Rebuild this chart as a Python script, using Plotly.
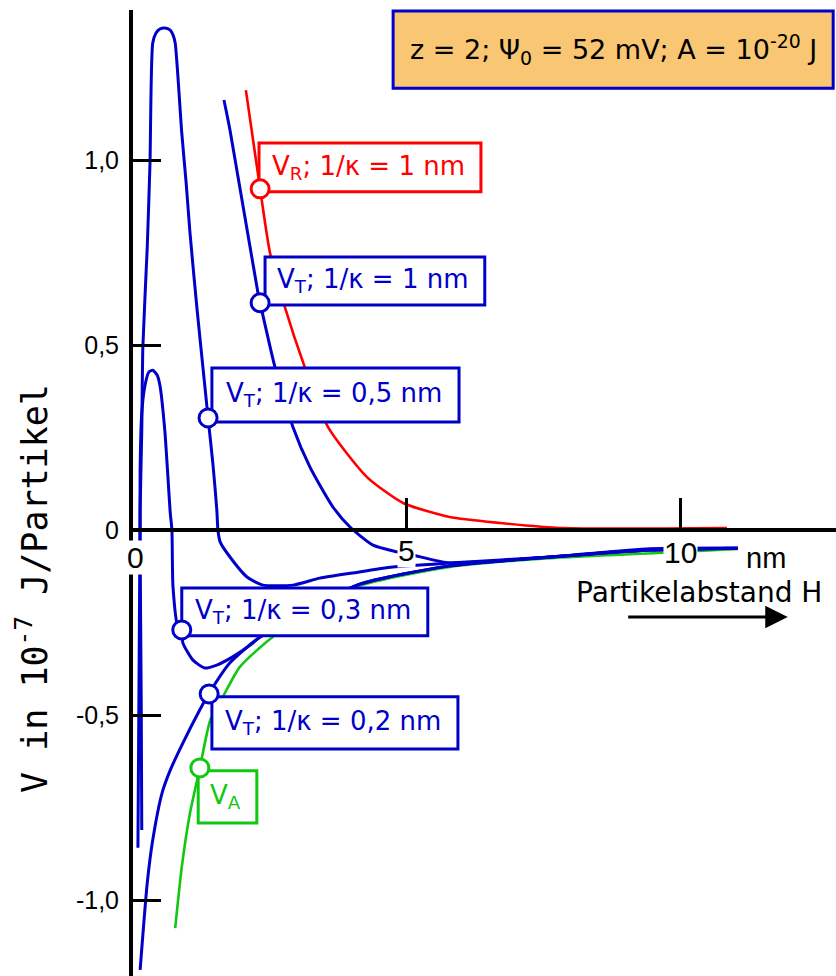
import plotly.graph_objects as go

# ---------------- data ----------------
# V_R, 1/kappa = 1 nm (red)
vr_x = [2.06, 2.32, 2.50, 2.77, 3.14, 3.56, 4.27, 4.93, 5.78, 6.70, 7.85, 10.84]
vr_y = [1.189, 0.922, 0.749, 0.603, 0.438, 0.278, 0.143, 0.073, 0.035, 0.019, 0.005, 0.005]

# V_T, 1/kappa = 1 nm (blue)
vt1_x = [1.66, 1.77, 2.28, 2.32, 2.59, 2.92, 3.23, 3.65, 3.96, 4.38, 4.82, 5.11, 5.78, 7.61, 9.43, 11.04]
vt1_y = [1.162, 1.081, 0.641, 0.614, 0.441, 0.278, 0.170, 0.062, 0.008, -0.041, -0.059, -0.068,
         -0.089, -0.073, -0.051, -0.049]

# V_T, 1/kappa = 0.5 nm (blue)
vt05_x = [0.09, 0.13, 0.16, 0.18, 0.26, 0.31, 0.36, 0.42, 0.49, 0.58, 0.68, 0.73, 0.77, 0.89,
          0.97, 1.04, 1.17, 1.30, 1.37, 1.46, 1.53, 1.55, 1.59, 1.77, 2.08, 2.37, 2.92, 3.41,
          4.01, 4.74, 5.78, 7.61, 9.43, 11.04]
vt05_y = [-0.859, 0.046, 0.270, 0.495, 0.765, 0.992, 1.316, 1.343, 1.354, 1.357, 1.351, 1.338,
          1.316, 1.073, 0.938, 0.803, 0.595, 0.405, 0.303, 0.176, 0.054, 0.0, -0.032, -0.073,
          -0.127, -0.149, -0.149, -0.130, -0.116, -0.100, -0.089, -0.073, -0.054, -0.049]

# V_T, 1/kappa = 0.3 nm (blue)
vt03_x = [0.16, 0.15, 0.13, 0.13, 0.16, 0.22, 0.29, 0.36, 0.44, 0.49, 0.58, 0.68, 0.71, 0.73,
          0.82, 0.89, 0.91, 1.09, 1.31, 1.53, 1.82, 2.14, 2.32, 4.09, 5.78, 7.61, 9.43, 11.04]
vt03_y = [-0.811, -0.459, -0.046, 0.162, 0.316, 0.392, 0.427, 0.432, 0.419, 0.392, 0.270, 0.046,
          0.0, -0.154, -0.262, -0.270, -0.305, -0.351, -0.373, -0.365, -0.343, -0.311, -0.289,
          -0.149, -0.097, -0.073, -0.054, -0.049]

# V_T, 1/kappa = 0.2 nm (blue)
vt02_x = [0.13, 0.26, 0.36, 0.53, 0.68, 0.91, 1.22, 1.37, 1.77, 2.32, 4.09, 5.78, 7.61, 9.43, 11.04]
vt02_y = [-1.189, -0.954, -0.838, -0.711, -0.649, -0.576, -0.486, -0.446, -0.359, -0.289,
          -0.149, -0.097, -0.073, -0.054, -0.049]

# V_A (green)
va_x = [0.77, 0.89, 1.04, 1.22, 1.41, 1.64, 1.95, 2.55, 3.96, 5.78, 7.61, 9.56, 11.04]
va_y = [-1.076, -0.911, -0.765, -0.643, -0.514, -0.451, -0.370, -0.289, -0.159, -0.100,
        -0.076, -0.062, -0.051]

# labels: text, anchor point on curve
label_texts = ["V<sub>R</sub>; 1/κ = 1 nm", "V<sub>T</sub>; 1/κ = 1 nm", "V<sub>T</sub>; 1/κ = 0,5 nm",
               "V<sub>T</sub>; 1/κ = 0,3 nm", "V<sub>T</sub>; 1/κ = 0,2 nm", "V<sub>A</sub>"]
label_pt_x = [2.32, 2.32, 1.37, 0.89, 1.39, 1.22]
label_pt_y = [0.922, 0.614, 0.303, -0.270, -0.443, -0.643]

y_tickvals = [-1.0, -0.5, 0.0, 0.5, 1.0]
y_ticktext = ["-1,0", "-0,5", "0", "0,5", "1,0"]
x_tickvals = [5, 10]
x_ticklabels = ["0", "5", "10"]
x_ticklabel_pos = [0, 5, 10]

info_text = "z = 2; Ψ<sub>0</sub> = 52 mV; A = 10<sup>-20</sup> J"
y_title = "V in 10<sup>-7</sup> J/Partikel"
x_title = "Partikelabstand H"
x_unit = "nm"

# ---------------- styling ----------------
RED = "#FF0000"
BLUE = "#0000C8"
GREEN = "#10C810"
ARIAL = "Liberation Sans, Arial, sans-serif"
DEJAVU = "DejaVu Sans, Verdana, sans-serif"
MONO = "DejaVu Sans Mono, monospace"

W, H = 836, 976
ML, MR, MT, MB = 133, 0, 10, 0
X_RANGE = [0, 12.83]
Y_RANGE = [-1.2054, 1.4054]
x_axis_pos = (0 - Y_RANGE[0]) / (Y_RANGE[1] - Y_RANGE[0])

fig = go.Figure()

def add_curve(x, y, color, width):
    fig.add_trace(go.Scatter(x=x, y=y, mode="lines",
                             line=dict(color=color, width=width, shape="spline", smoothing=0.6),
                             hoverinfo="skip", showlegend=False))

add_curve(vr_x, vr_y, RED, 2.6)
add_curve(va_x, va_y, GREEN, 2.6)
add_curve(vt02_x, vt02_y, BLUE, 3)
add_curve(vt03_x, vt03_y, BLUE, 3)
add_curve(vt05_x, vt05_y, BLUE, 3)
add_curve(vt1_x, vt1_y, BLUE, 3)

label_colors = [RED, BLUE, BLUE, BLUE, BLUE, GREEN]
# boxes (data coords): x0, x1, y0, y1
label_boxes = [
    (2.30, 6.35, 0.914, 1.046),
    (2.41, 6.42, 0.608, 0.738),
    (1.44, 5.95, 0.292, 0.438),
    (0.89, 5.38, -0.286, -0.157),
    (1.44, 5.93, -0.592, -0.451),
    (1.19, 2.26, -0.792, -0.651),
]

shapes = []
annotations = []
for (x0, x1, y0, y1), col, txt in zip(label_boxes, label_colors, label_texts):
    shapes.append(dict(type="rect", xref="x", yref="y", x0=x0, x1=x1, y0=y0, y1=y1,
                       fillcolor="white", line=dict(color=col, width=3), layer="above"))
    annotations.append(dict(x=(x0 + x1) / 2 - 0.03, y=(y0 + y1) / 2, xref="x", yref="y", text=txt,
                            xanchor="center", yanchor="middle", showarrow=False,
                            font=dict(family=DEJAVU, size=26, color=col)))
for px, py, col in zip(label_pt_x, label_pt_y, label_colors):
    shapes.append(dict(type="circle", xref="x", yref="y", xsizemode="pixel", ysizemode="pixel",
                       xanchor=px, yanchor=py, x0=-9, x1=9, y0=-9, y1=9,
                       fillcolor="white", line=dict(color=col, width=3), layer="above"))

# info box top right
shapes.append(dict(type="rect", xref="paper", yref="paper", x0=0.370, x1=0.996, y0=0.919, y1=0.999,
                   fillcolor="#F9C673", line=dict(color=BLUE, width=3), layer="above"))
annotations.append(dict(x=0.683, y=0.959, xref="paper", yref="paper", text=info_text, showarrow=False,
                        xanchor="center", yanchor="middle",
                        font=dict(family=DEJAVU, size=27, color="black")))

# x tick labels with white background
x_label_shift = [-27, -20, -22]
for xv, t, ys in zip(x_ticklabel_pos, x_ticklabels, x_label_shift):
    annotations.append(dict(x=xv + (0.04 if xv == 0 else 0), y=0, xref="x", yref="y", yshift=ys, text=t,
                            xanchor="center", yanchor="middle", showarrow=False, bgcolor="white",
                            borderpad=0, font=dict(family=ARIAL, size=30, color="black")))
annotations.append(dict(x=11.56, y=0, xref="x", yref="y", yshift=-28, text=x_unit, showarrow=False,
                        xanchor="center", yanchor="middle",
                        font=dict(family=ARIAL, size=29, color="black")))
annotations.append(dict(x=10.33, y=-0.170, xref="x", yref="y", text=x_title, showarrow=False,
                        xanchor="center", yanchor="middle",
                        font=dict(family=DEJAVU, size=28, color="black")))
# arrow
annotations.append(dict(x=11.95, y=-0.235, ax=9.01, ay=-0.235, xref="x", yref="y", axref="x", ayref="y",
                        text="", showarrow=True, arrowhead=2, arrowsize=1.5, arrowwidth=3,
                        arrowcolor="black"))
# y title
annotations.append(dict(x=-0.1437, y=0.4017, xref="paper", yref="paper", text=y_title, showarrow=False,
                        textangle=-90, xanchor="center", yanchor="middle",
                        font=dict(family=MONO, size=35, color="black")))

fig.update_layout(
    width=W, height=H,
    margin=dict(l=ML, r=MR, t=MT, b=MB),
    plot_bgcolor="white", paper_bgcolor="white",
    shapes=shapes, annotations=annotations,
    xaxis=dict(range=X_RANGE, anchor="free", position=x_axis_pos, showline=True, linewidth=4,
               linecolor="black", ticks="inside", tickvals=x_tickvals, ticklen=30, tickwidth=3,
               tickcolor="black", showticklabels=False, showgrid=False, zeroline=False),
    yaxis=dict(range=Y_RANGE, showline=True, linewidth=4, linecolor="black", ticks="inside",
               tickvals=y_tickvals, ticktext=y_ticktext, ticklen=28, tickwidth=3, tickcolor="black",
               tickfont=dict(family=ARIAL, size=25, color="black"), ticklabelstandoff=5,
               showgrid=False, zeroline=False),
)

# remove the page's default body margin so the figure fills the window exactly
fig.write_html("out.html", config={"displayModeBar": False},
               post_script="document.body.style.margin='0px';")
